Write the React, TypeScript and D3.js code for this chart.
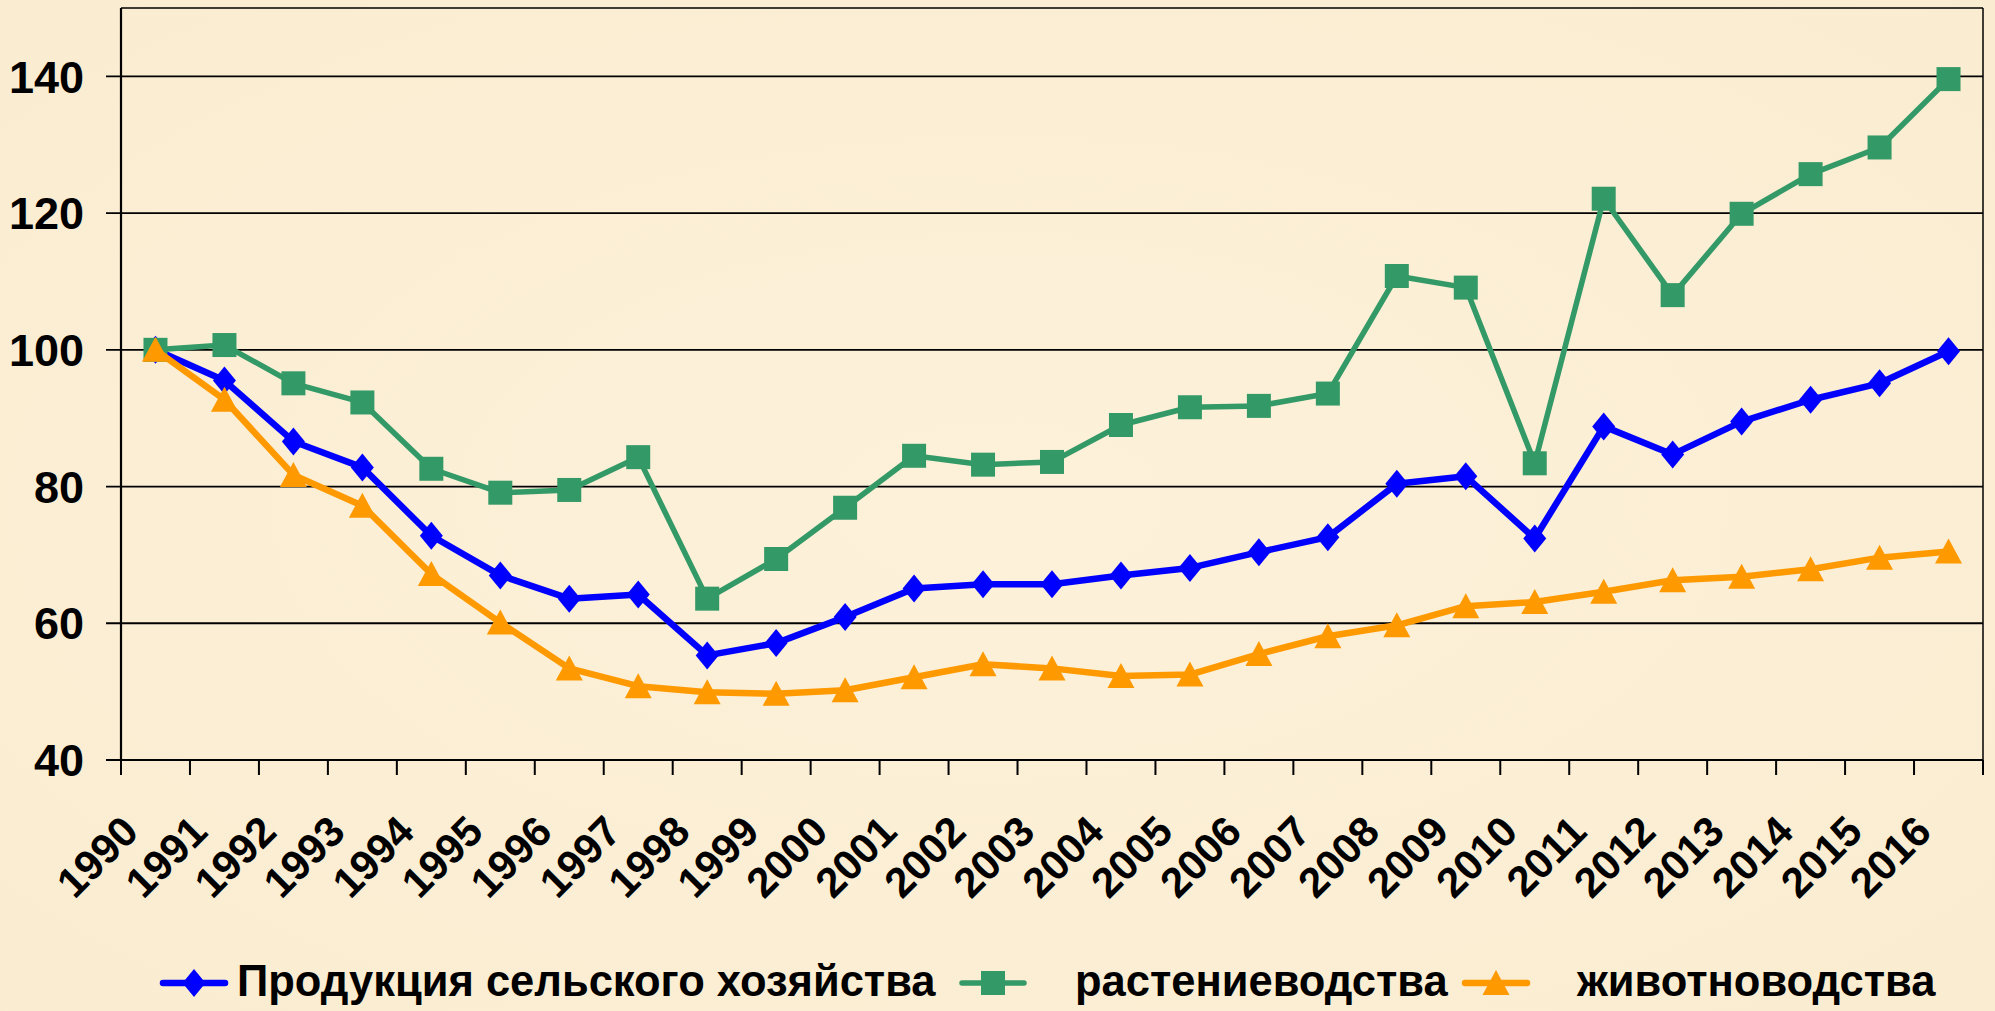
import React from 'react';
import * as d3 from 'd3';

// years on the category axis
const years = [
  '1990', '1991', '1992', '1993', '1994', '1995', '1996', '1997', '1998',
  '1999', '2000', '2001', '2002', '2003', '2004', '2005', '2006', '2007',
  '2008', '2009', '2010', '2011', '2012', '2013', '2014', '2015', '2016',
];

// Продукция сельского хозяйства
const totalValues = [
  100, 95.5, 86.6, 82.8, 72.8, 67.0, 63.6, 64.2, 55.3, 57.1, 60.9, 65.1, 65.7,
  65.7, 67.0, 68.1, 70.4, 72.6, 80.4, 81.5, 72.4, 88.8, 84.7, 89.5, 92.7, 95.1,
  99.8,
];

// растениеводства
const cropValues = [
  100, 100.7, 95.1, 92.3, 82.6, 79.1, 79.5, 84.3, 63.6, 69.4, 76.9, 84.5, 83.2,
  83.6, 89.0, 91.6, 91.8, 93.6, 110.8, 109.1, 83.4, 122.1, 108.0, 119.9, 125.7,
  129.6, 139.6,
];

// животноводства
const livestockValues = [
  100, 92.7, 81.7, 77.2, 67.2, 60.1, 53.4, 50.8, 49.9, 49.7, 50.2, 52.1, 54.0,
  53.4, 52.3, 52.5, 55.5, 58.1, 59.7, 62.5, 63.1, 64.6, 66.3, 66.8, 67.9, 69.6,
  70.5,
];

const yTicks = [40, 60, 80, 100, 120, 140];

const seriesNames = [
  'Продукция сельского хозяйства',
  'растениеводства',
  'животноводства',
];

const W = 1995;
const H = 1011;
const plot = { left: 121, right: 1983, top: 8, bottom: 760 };
const FONT = '"Liberation Sans", Arial, sans-serif';

const diamond = 'M0,-14L11.5,0L0,14L-11.5,0Z';
const square = 'M-12,-12H12V12H-12Z';
const triangle = 'M0,-13L13.5,12L-13.5,12Z';

const series = [
  { name: seriesNames[0], values: totalValues, color: '#0000FF', width: 6.5, marker: diamond },
  { name: seriesNames[1], values: cropValues, color: '#339966', width: 5.5, marker: square },
  { name: seriesNames[2], values: livestockValues, color: '#FF9900', width: 6.5, marker: triangle },
];

// legend placement (line start, text start)
const legendItems = [
  { lx: 163, tx: 237 },
  { lx: 962, tx: 1075 },
  { lx: 1465, tx: 1577 },
];

export default function App() {
  const x = d3
    .scaleBand<string>()
    .domain(years)
    .range([plot.left, plot.right])
    .padding(0);

  const y = d3.scaleLinear().domain([40, 150]).range([plot.bottom, plot.top]);

  const cx = (yr: string) => (x(yr) as number) + x.bandwidth() / 2;

  const line = d3
    .line<number>()
    .x((_, i) => cx(years[i]))
    .y((v) => y(v));

  const boundaries = years.map((yr) => x(yr) as number).concat([plot.right]);

  return (
    <div style={{ position: 'fixed', left: 0, top: 0 }}>
      <svg width={W} height={H} style={{ display: 'block', background: '#FBEFD4' }}>
        <defs>
          <radialGradient id="bg" cx="50%" cy="50%" r="75%">
            <stop offset="0%" stopColor="#FDF1DA" />
            <stop offset="100%" stopColor="#F9ECD0" />
          </radialGradient>
        </defs>
        <rect x={0} y={0} width={W} height={H} fill="url(#bg)" />

        {/* gridlines */}
        {yTicks.map((t) => (
          <line
            key={t}
            x1={plot.left - 15}
            x2={plot.right}
            y1={y(t)}
            y2={y(t)}
            stroke="#000"
            strokeWidth={1.8}
          />
        ))}

        {/* plot frame */}
        <line x1={plot.left} x2={plot.right} y1={plot.top} y2={plot.top} stroke="#000" strokeWidth={1.5} />
        <line x1={plot.right} x2={plot.right} y1={plot.top} y2={plot.bottom} stroke="#000" strokeWidth={1.5} />
        <line x1={plot.left} x2={plot.left} y1={plot.top} y2={plot.bottom} stroke="#000" strokeWidth={2.2} />
        <line x1={plot.left} x2={plot.right} y1={plot.bottom} y2={plot.bottom} stroke="#000" strokeWidth={2.2} />

        {/* category tick marks */}
        {boundaries.map((bx, i) => (
          <line key={i} x1={bx} x2={bx} y1={plot.bottom} y2={plot.bottom + 15} stroke="#000" strokeWidth={2} />
        ))}

        {/* y labels */}
        {yTicks.map((t) => (
          <text
            key={t}
            x={84}
            y={y(t)}
            dy="0.36em"
            textAnchor="end"
            fontFamily={FONT}
            fontWeight="bold"
            fontSize={45}
            fill="#000"
          >
            {t}
          </text>
        ))}

        {/* x labels */}
        {years.map((yr) => (
          <text
            key={yr}
            transform={`translate(${cx(yr) - 15},834) rotate(-45)`}
            textAnchor="end"
            fontFamily={FONT}
            fontWeight="bold"
            fontSize={42}
            fill="#000"
          >
            {yr}
          </text>
        ))}

        {/* series */}
        {series.map((s) => (
          <g key={s.name}>
            <path
              d={line(s.values) as string}
              fill="none"
              stroke={s.color}
              strokeWidth={s.width}
              strokeLinejoin="round"
            />
            {s.values.map((v, i) => (
              <path
                key={i}
                d={s.marker}
                transform={`translate(${cx(years[i])},${y(v)})`}
                fill={s.color}
              />
            ))}
          </g>
        ))}

        {/* legend */}
        {series.map((s, i) => {
          const it = legendItems[i];
          const ly = 983;
          return (
            <g key={s.name}>
              <line
                x1={it.lx}
                x2={it.lx + 62}
                y1={ly}
                y2={ly}
                stroke={s.color}
                strokeWidth={s.width}
                strokeLinecap="round"
              />
              <path d={s.marker} transform={`translate(${it.lx + 31},${ly})`} fill={s.color} />
              <text
                x={it.tx}
                y={996}
                fontFamily={FONT}
                fontWeight="bold"
                fontSize={43.5}
                fill="#000"
              >
                {s.name}
              </text>
            </g>
          );
        })}
      </svg>
    </div>
  );
}
